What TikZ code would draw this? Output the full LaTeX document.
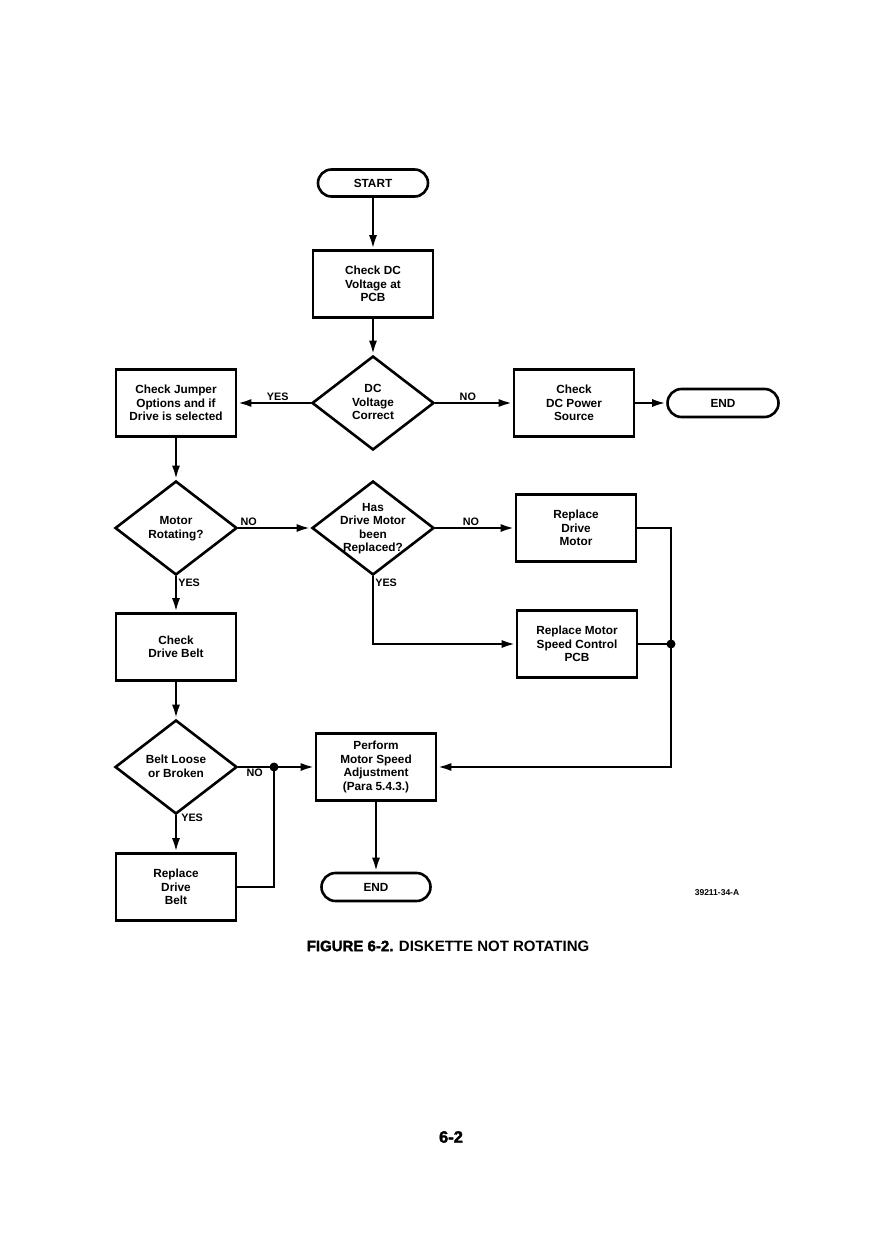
\documentclass[tikz,border=0pt]{standalone}
\usepackage{fontspec}
\setmainfont{Liberation Sans}
\newfontfamily\heavyfont{Liberation Sans Bold}[FakeBold=2]
\usetikzlibrary{arrows.meta,shapes.geometric}
\newcommand{\dtxt}[1]{\raisebox{-0.32em}[0pt][0pt]{\makebox[0pt]{\begin{tabular}{@{}c@{}}#1\end{tabular}}}}
\begin{document}
\begin{tikzpicture}[x=1pt,y=-1pt, line width=2.6pt,
  every node/.style={font=\fontsize{11.8}{13.5}\selectfont\bfseries, align=center},
  box/.style={draw, minimum width=120pt, minimum height=67pt, inner sep=0pt},
  term/.style={draw, rounded corners=13.5pt, minimum width=110pt, minimum height=27pt, inner sep=0pt},
  dia/.style={draw, diamond, minimum width=122pt, minimum height=94pt, inner sep=0pt},
  lbl/.style={font=\fontsize{10.8}{12}\selectfont\bfseries, inner sep=1pt},
  arr/.style={-{Latex[length=14pt,width=8pt]}},
  jdot/.style={circle, fill, inner sep=0pt, minimum size=9pt}]
\fill[white] (0,0) rectangle (892,1260);
\useasboundingbox (0,0) rectangle (892,1260);

% nodes
\node[term] (start) at (373,183) {START};
\node[box] (chk) at (373,284) {Check DC\\Voltage at\\PCB};
\node[dia] (d1) at (373,403) {\dtxt{DC\\Voltage\\Correct}};
\node[box] (jump) at (176,403) {Check Jumper\\Options and if\\Drive is selected};
\node[box] (pwr) at (574,403) {Check\\DC Power\\Source};
\node[term, minimum width=111pt, minimum height=28pt, rounded corners=14pt] (end1) at (723,403) {END};

\node[dia] (d2) at (176,528) {\dtxt{Motor\\Rotating?}};
\node[dia] (d3) at (373,528) {\dtxt{Has\\Drive Motor\\been\\Replaced?}};
\node[box] (rdm) at (576,528) {Replace\\Drive\\Motor};
\node[box] (rpcb) at (577,644) {Replace Motor\\Speed Control\\PCB};
\coordinate (j1) at (671,644);
\node[jdot] (dot1) at (j1) {};

\node[box] (belt) at (176,647) {Check\\Drive Belt};
\node[dia] (d4) at (176,767) {\dtxt{Belt Loose\\or Broken}};
\node[box] (perf) at (376,767) {Perform\\Motor Speed\\Adjustment\\(Para 5.4.3.)};
\node[jdot] (dot2) at (274,767) {};
\node[box] (rdb) at (176,887) {Replace\\Drive\\Belt};
\node[term, minimum width=109pt, minimum height=28pt, rounded corners=14pt] (end2) at (376,887) {END};

\node[font=\fontsize{8.5}{10}\selectfont\bfseries] (code) at (717,893) {39211-34-A};
\node[font=\fontsize{15}{16}\selectfont\bfseries] (cap) at (448,946) {{\heavyfont FIGURE 6-2.} DISKETTE NOT ROTATING};
\node[font=\fontsize{16.5}{18}\selectfont\heavyfont] (pg) at (451,1137) {6-2};

% connectors
\draw[arr] (start) -- (chk);
\draw[arr] (chk) -- (d1);
\draw[arr] (d1.west) -- node[lbl, above, pos=0.45] (yes1) {YES} (jump.east);
\draw[arr] (d1.east) -- node[lbl, above, pos=0.42] (no1) {NO} (pwr.west);
\draw[arr] (pwr.east) -- (end1.west);
\draw[arr] (jump.south) -- (d2.north);
\draw[arr] (d2.east) -- (d3.west);
\node[lbl, anchor=south west] (no2) at (d2.east) {NO};
\draw[arr] (d2.south) -- (belt.north);
\node[lbl, anchor=north west] (yes2) at (d2.south) {YES};
\draw[arr] (d3.east) -- node[lbl, above, pos=0.45] (no3) {NO} (rdm.west);
\draw[arr] (d3.south) |- (rpcb.west);
\node[lbl, anchor=north west] (yes3) at (d3.south) {YES};
\draw[arr] (rdm.east) -| (dot1.center) |- (perf.east);
\draw (rpcb.east) -- (dot1.center);
\draw[arr] (belt.south) -- (d4.north);
\draw[arr] (d4.east) -- (perf.west);
\node[lbl, anchor=north west, xshift=6pt] (no4) at (d4.east) {NO};
\draw[arr] (d4.south) -- (rdb.north);
\node[lbl, anchor=north west, xshift=3pt] (yes4) at ([yshift=4pt]d4.south) {YES};
\draw (rdb.east) -| (dot2.center);
\draw[arr] (perf.south) -- (end2.north);
\end{tikzpicture}
\end{document}
